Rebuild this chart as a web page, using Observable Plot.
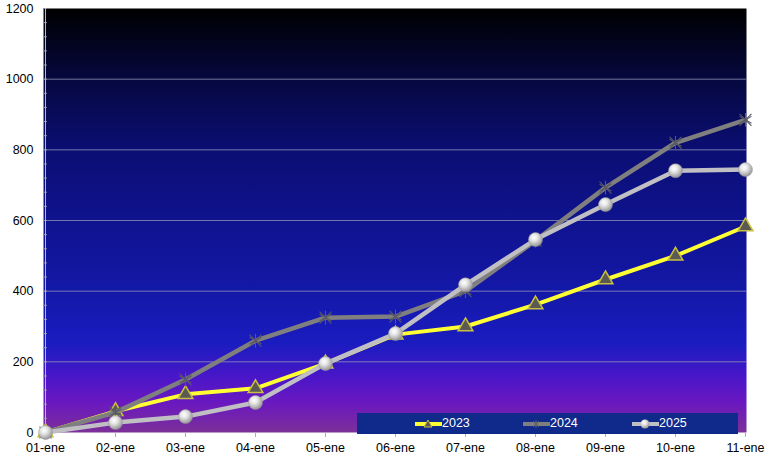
<!DOCTYPE html>
<html>
<head>
<meta charset="utf-8">
<script src="https://cdn.jsdelivr.net/npm/d3@7"></script>
<script src="https://cdn.jsdelivr.net/npm/@observablehq/plot@0.6"></script>
<style>
  html, body { margin: 0; padding: 0; background: #fff; }
  #chart { position: relative; width: 768px; height: 459px; }
  #legend { position: absolute; left: 357px; top: 413px; width: 381px; height: 21px; background: #102a8c;
    font-family: "Liberation Sans", Arial, sans-serif; font-size: 12.5px; color: #fff; }
  .item { position: absolute; top: 3px; height: 15px; line-height: 15px; }
  .item svg { vertical-align: middle; }
</style>
</head>
<body>
<div id="chart"></div>
<script>
const days = ["01-ene","02-ene","03-ene","04-ene","05-ene","06-ene","07-ene","08-ene","09-ene","10-ene","11-ene"];
const v2023 = [0, 60, 108, 125, 195, 277, 300, 362, 433, 500, 583];
const v2024 = [0, 57, 150, 260, 325, 328, 400, 543, 693, 820, 885];
const v2025 = [0, 28, 45, 85, 195, 280, 418, 546, 645, 741, 744];
const yTicks = [0, 200, 400, 600, 800, 1000, 1200];
const minorTicks = d3.range(0, 1201, 40);
const series = ["2023", "2024", "2025"];

const rows = (vals, s) => days.map((d, i) => ({day: d, value: vals[i], serie: s}));
const d23 = rows(v2023, "2023"), d24 = rows(v2024, "2024"), d25 = rows(v2025, "2025");

const font = "Liberation Sans, Arial, sans-serif";

const chart = Plot.plot({
  width: 768,
  height: 459,
  marginLeft: 43,
  marginRight: 22,
  marginTop: 8,
  marginBottom: 27,
  style: {fontFamily: font, fontSize: "12.5px", color: "#000", background: "#fff"},
  x: {type: "point", domain: days, padding: 0, label: null},
  y: {domain: [0, 1200], label: null},
  marks: [
    Plot.frame({fill: "url(#bg)", stroke: null}),
    Plot.ruleY(yTicks.filter(t => t > 0 && t < 1200), {stroke: "#9a9ab8", strokeOpacity: 0.75, strokeWidth: 1}),
    Plot.axisY(minorTicks, {tickSize: -4, tickFormat: () => "", stroke: "#8a8aa0", label: null}),
    Plot.ruleX([days[0]], {stroke: "#b8b8b8", strokeWidth: 1}),
    Plot.axisY(yTicks, {tickSize: 0, tickPadding: 10, tickFormat: d => String(d), fontSize: 12.5, fill: "#000", label: null}),
    Plot.axisX(days, {tickSize: 5, stroke: "#b0b0b0", tickPadding: 6, fontSize: 12.5, fill: "#000", label: null}),
    // 2023
    Plot.line(d23, {x: "day", y: "value", stroke: "#ffff33", strokeWidth: 4}),
    Plot.dot(d23, {x: "day", y: "value", symbol: "triangle", r: 5.5, fill: "#5a5a52", stroke: "#c8c040", strokeWidth: 1.5}),
    // 2024
    Plot.line(d24, {x: "day", y: "value", stroke: "#7f7f7f", strokeWidth: 4.5}),
    Plot.dot(d24, {x: "day", y: "value", symbol: "asterisk", r: 6.5, stroke: "#5a5a64", strokeWidth: 1.1}),
    Plot.dot(d24, {x: "day", y: "value", symbol: "times", r: 5.5, stroke: "#5a5a64", strokeWidth: 1.1}),
    // 2025
    Plot.line(d25, {x: "day", y: "value", stroke: "#bfbfc4", strokeWidth: 4.5}),
    Plot.dot(d25, {x: "day", y: "value", r: 7, fill: "url(#sphere)", stroke: "#9a9a9a", strokeWidth: 0.5})
  ]
});

const svg = d3.select(chart);
const defs = svg.insert("defs", ":first-child");
const bg = defs.append("linearGradient").attr("id", "bg").attr("x1", 0).attr("y1", 0).attr("x2", 0).attr("y2", 1);
[[0, "#000000"], [0.17, "#060840"], [0.33, "#0b0e72"], [0.5, "#0f138e"], [0.67, "#1418a8"], [0.79, "#1a1cc0"],
 [0.87, "#4a16c8"], [0.93, "#6a18c0"], [1, "#7c3098"]].forEach(([o, c]) =>
  bg.append("stop").attr("offset", o).attr("stop-color", c));
const sp = defs.append("radialGradient").attr("id", "sphere").attr("cx", 0.4).attr("cy", 0.35).attr("r", 0.7);
[[0, "#ffffff"], [0.35, "#e6e6e6"], [0.8, "#a8a8a8"], [1, "#8a8a8a"]].forEach(([o, c]) =>
  sp.append("stop").attr("offset", o).attr("stop-color", c));

const host = document.getElementById("chart");
host.appendChild(chart);

// legend
const legend = document.createElement("div");
legend.id = "legend";
const itemDefs = [
  {label: series[0], left: 58, line: "#ffff33", marker: "tri"},
  {label: series[1], left: 166, line: "#7f7f7f", marker: "ast"},
  {label: series[2], left: 275, line: "#bfbfc4", marker: "sph"}
];
itemDefs.forEach(it => {
  const el = document.createElement("span");
  el.className = "item";
  el.style.left = it.left + "px";
  let m = "";
  if (it.marker === "tri") m = '<path d="M13,3 L17,10 L9,10 Z" fill="#5a5a52" stroke="#c8c040" stroke-width="1"/>';
  if (it.marker === "ast") m = '<path d="M10,4 L16,10 M16,4 L10,10 M13,3 L13,11" stroke="#5e5e66" stroke-width="1"/>';
  if (it.marker === "sph") m = '<circle cx="13" cy="7" r="4.5" fill="url(#sphere)"/>';
  el.innerHTML = '<svg width="27" height="14"><line x1="0" y1="7" x2="27" y2="7" stroke="' + it.line +
    '" stroke-width="4" stroke-linecap="round"/>' + m + '</svg>' + it.label;
  legend.appendChild(el);
});
host.appendChild(legend);
</script>
</body>
</html>
